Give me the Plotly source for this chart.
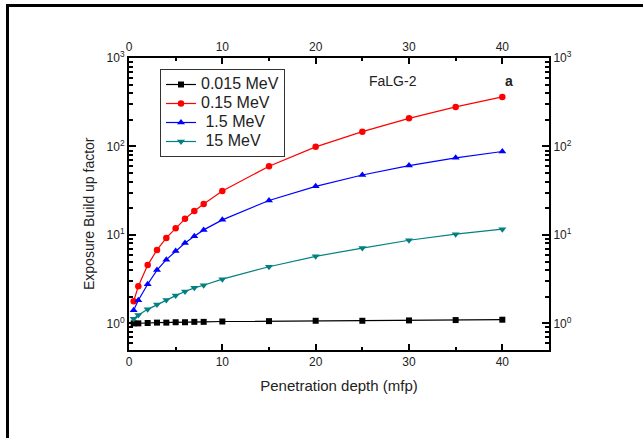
import plotly.graph_objects as go

depth = [0.5, 1, 2, 3, 4, 5, 6, 7, 8, 10, 15, 20, 25, 30, 35, 40]
b_0015 = [1.00, 1.00, 1.01, 1.02, 1.02, 1.03, 1.03, 1.04, 1.04, 1.05, 1.06, 1.07, 1.07, 1.08, 1.09, 1.10]
b_015 = [1.78, 2.63, 4.56, 6.76, 9.25, 11.9, 15.2, 18.6, 22.4, 31.4, 59.7, 99, 147, 208, 280, 363]
b_15 = [1.41, 1.83, 2.77, 4.0, 5.25, 6.6, 8.1, 9.66, 11.4, 14.8, 24.5, 35.4, 47.6, 60.8, 74.3, 87.7]
b_150 = [1.13, 1.24, 1.44, 1.63, 1.84, 2.06, 2.29, 2.52, 2.7, 3.16, 4.37, 5.73, 7.1, 8.7, 10.2, 11.6]
series_names = ["0.015 MeV", "0.15 MeV", "\u00a01.5 MeV", "\u00a015 MeV"]
series_colors = ["#000000", "#FF0000", "#0000FF", "#008080"]
series_symbols = ["square", "circle", "triangle-up", "triangle-down"]
series_sizes = [6, 6.5, 7, 7]
series_data = [b_0015, b_015, b_15, b_150]

x_ticks = [0, 10, 20, 30, 40]
y_tickvals = [1, 10, 100, 1000]
y_ticktext = ["10<sup>0</sup>", "10<sup>1</sup>", "10<sup>2</sup>", "10<sup>3</sup>"]
y_minor = [0.5, 0.6, 0.7, 0.8, 0.9] + [m * d for d in (1, 10, 100) for m in range(2, 10)]

FONT = "Liberation Sans, Arial, sans-serif"

fig = go.Figure()
for name, col, sym, sz, ys in zip(series_names, series_colors, series_symbols, series_sizes, series_data):
    fig.add_trace(go.Scatter(
        x=depth, y=ys, mode="lines+markers",
        name='<span style="font-size:16px">' + name + "</span>",
        line=dict(color=col, width=1.2),
        marker=dict(symbol=sym, color=col, size=sz),
    ))
# dummy trace for secondary axes
fig.add_trace(go.Scatter(x=[None], y=[None], xaxis="x2", yaxis="y2", showlegend=False))

axis_common = dict(
    showline=True, linecolor="black", linewidth=2, mirror=False,
    ticks="inside", tickcolor="black", tickwidth=2, showgrid=False, zeroline=False,
    tickfont=dict(family=FONT, size=12, color="#222"),
)

fig.update_layout(
    width=643, height=438,
    margin=dict(l=129, r=94, t=58, b=88),
    paper_bgcolor="white", plot_bgcolor="white",
    font=dict(family=FONT, color="#222"),
    showlegend=True,
    legend=dict(
        x=(160 - 129) / 420, y=(350 - 69) / 292, xanchor="left", yanchor="top",
        bordercolor="#333", borderwidth=1, bgcolor="white",
        font=dict(family=FONT, size=12, color="#222"),
        tracegroupgap=0, itemwidth=30,
    ),
    xaxis=dict(
        range=[0, 45], tickvals=x_ticks, ticklen=6,
        minor=dict(ticks="inside", dtick=5, tick0=0, ticklen=3, tickwidth=2, tickcolor="black"),
        title=dict(text="Penetration depth (mfp)", font=dict(family=FONT, size=15, color="#222"), standoff=12),
        **axis_common,
    ),
    xaxis2=dict(
        range=[0, 45], tickvals=x_ticks, ticklen=6, overlaying="x", side="top",
        minor=dict(ticks="inside", dtick=5, tick0=0, ticklen=3, tickwidth=2, tickcolor="black"),
        **axis_common,
    ),
    yaxis=dict(
        type="log", range=[-0.30103, 3], tickvals=y_tickvals, ticktext=y_ticktext, ticklen=7,
        minor=dict(ticks="inside", tickvals=y_minor, ticklen=4, tickwidth=2, tickcolor="black"),
        **axis_common,
    ),
    yaxis2=dict(
        type="log", range=[-0.30103, 3], tickvals=y_tickvals, ticktext=y_ticktext, ticklen=7,
        overlaying="y", side="right", anchor="x",
        minor=dict(ticks="inside", tickvals=y_minor, ticklen=4, tickwidth=2, tickcolor="black"),
        **axis_common,
    ),
    annotations=[
        dict(text="Exposure Build up factor", x=(89 - 129) / 420, y=(350 - 214) / 292,
             xref="paper", yref="paper", xanchor="center", yanchor="middle", textangle=-90,
             showarrow=False, font=dict(family=FONT, size=14, color="#222")),
        dict(text="FaLG-2", x=28.3, y=(350 - 81) / 292, xref="x", yref="paper",
             xanchor="center", yanchor="middle",
             showarrow=False, font=dict(family=FONT, size=14, color="#222")),
        dict(text="<b>a</b>", x=40.7, y=(350 - 81) / 292, xref="x", yref="paper",
             xanchor="center", yanchor="middle",
             showarrow=False, font=dict(family=FONT, size=14, color="#222")),
    ],
    shapes=[
        dict(type="rect", xref="paper", yref="paper",
             x0=(7.5 - 129) / 420, x1=(900 - 129) / 420, y0=(350 - 5.5) / 292, y1=(350 - 700) / 292,
             line=dict(color="black", width=3), fillcolor="rgba(0,0,0,0)"),
    ],
)

fig.write_html(
    "out.html",
    config={"displayModeBar": False},
    post_script="document.body.style.margin='0';document.body.style.overflow='hidden';",
)
